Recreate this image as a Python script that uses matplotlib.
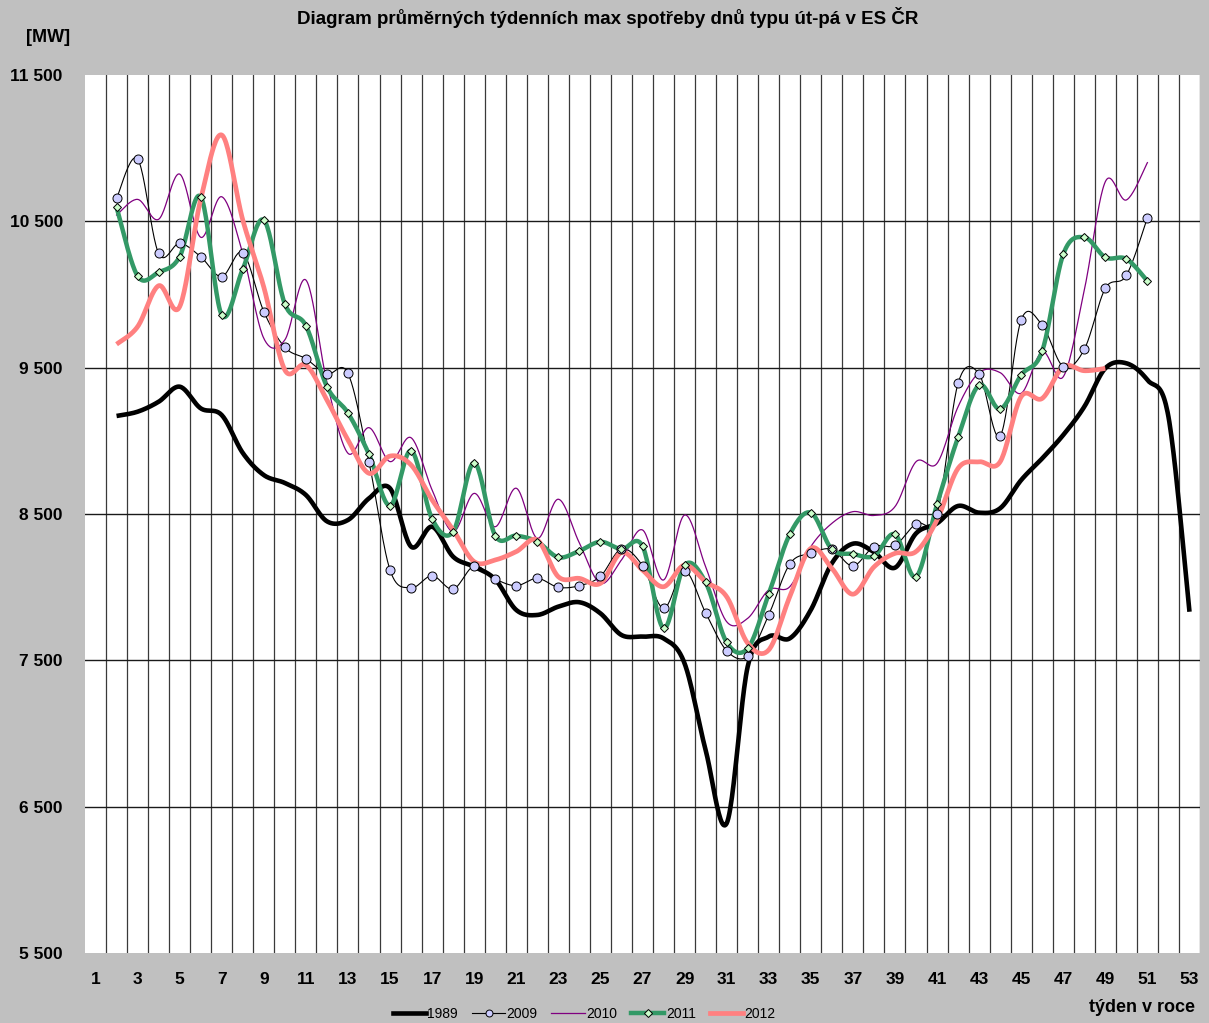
import numpy as np
import matplotlib.pyplot as plt
from matplotlib.lines import Line2D
from matplotlib.ticker import FixedLocator, NullLocator

plt.rcParams['font.family'] = ['Liberation Sans', 'DejaVu Sans']

# týdenní maxima [MW]
tydny_1989 = list(range(2, 54))
v1989 = [9170, 9199, 9267, 9370, 9222, 9176, 8917, 8766, 8712, 8630, 8450,
         8459, 8607, 8675, 8277, 8413, 8208, 8140, 8053, 7844, 7810, 7867,
         7897, 7821, 7673, 7662, 7650, 7479, 6887, 6386, 7457, 7662, 7650,
         7844, 8163, 8297, 8240, 8133, 8367, 8436, 8555, 8509, 8539, 8732,
         8880, 9040, 9233, 9496, 9530, 9416, 9165, 7832]

tydny_2009 = list(range(2, 52))
v2009 = [10657, 10926, 10281, 10350, 10258, 10122, 10286, 9883, 9639, 9561,
         9457, 9461, 8855, 8117, 7996, 8078, 7987, 8145, 8056, 8010, 8060,
         7999, 8010, 8074, 8261, 8147, 7855, 8112, 7825, 7566, 7529, 7810,
         8158, 8231, 8259, 8145, 8277, 8286, 8435, 8498, 9393, 9457, 9033,
         9826, 9791, 9507, 9625, 10042, 10131, 10525]

tydny_2010 = list(range(2, 52))
v2010 = [10543, 10650, 10514, 10823, 10391, 10668, 10281, 9700, 9690, 10099,
         9400, 8915, 9090, 8858, 9021, 8664, 8379, 8641, 8413, 8676, 8334,
         8601, 8302, 8026, 8186, 8391, 8049, 8493, 8140, 7764, 7787, 7981,
         8003, 8277, 8436, 8516, 8490, 8550, 8857, 8846, 9233, 9466, 9466,
         9325, 9609, 9438, 10030, 10771, 10646, 10901]

tydny_2011 = list(range(2, 52))
v2011 = [10596, 10126, 10152, 10258, 10668, 9860, 10174, 10509, 9935, 9787,
         9370, 9190, 8908, 8557, 8933, 8466, 8379, 8851, 8352, 8352, 8311,
         8204, 8248, 8310, 8260, 8281, 7719, 8151, 8033, 7623, 7582, 7953,
         8361, 8509, 8259, 8227, 8213, 8361, 8071, 8566, 9024, 9381, 9217,
         9450, 9614, 10275, 10391, 10254, 10243, 10092]

tydny_2012 = list(range(2, 50))
v2012 = [9660, 9780, 10060, 9917, 10650, 11090, 10509, 10050, 9484, 9518,
         9279, 9006, 8778, 8896, 8835, 8596, 8391, 8174, 8186, 8243, 8322,
         8071, 8060, 8026, 8237, 8117, 8003, 8151, 8037, 7935, 7617, 7571,
         7935, 8265, 8129, 7952, 8138, 8231, 8243, 8459, 8812, 8857, 8857,
         9302, 9290, 9507, 9479, 9495]

y_ticks = [5500, 6500, 7500, 8500, 9500, 10500, 11500]
x_labels = list(range(1, 54, 2))


def vyhlad(x, y, n=24):
    # vyhlazená čára jako v Excelu (Bézier s tečnami Catmull-Rom)
    x = np.asarray(x, float)
    y = np.asarray(y, float)
    bx, by = [], []
    for i in range(len(x) - 1):
        p0 = max(i - 1, 0)
        p3 = min(i + 2, len(x) - 1)
        c1x = x[i] + (x[i + 1] - x[p0]) / 6
        c1y = y[i] + (y[i + 1] - y[p0]) / 6
        c2x = x[i + 1] - (x[p3] - x[i]) / 6
        c2y = y[i + 1] - (y[p3] - y[i]) / 6
        t = np.linspace(0, 1, n, endpoint=(i == len(x) - 2))
        a = (1 - t) ** 3
        b = 3 * (1 - t) ** 2 * t
        c = 3 * (1 - t) * t ** 2
        d = t ** 3
        bx.extend(a * x[i] + b * c1x + c * c2x + d * x[i + 1])
        by.extend(a * y[i] + b * c1y + c * c2y + d * y[i + 1])
    return np.array(bx), np.array(by)


fig = plt.figure(figsize=(12.09, 10.23), dpi=100, facecolor='#c0c0c0')
ax = fig.add_axes([85 / 1209, 70 / 1023, 1115 / 1209, 878 / 1023])
ax.set_facecolor('white')
ax.set_xlim(0.5, 53.5)
ax.set_ylim(5500, 11500)

for s in ax.spines.values():
    s.set_visible(False)

for k in range(1, 54):
    ax.axvline(k + 0.5, color='#3a3a3a', lw=0.9, zorder=1)
for v in y_ticks[1:-1]:
    ax.axhline(v, color='#1a1a1a', lw=1.0, zorder=1)

ax.xaxis.set_major_locator(FixedLocator(x_labels))
ax.set_xticklabels([str(k) for k in x_labels])
ax.yaxis.set_major_locator(FixedLocator(y_ticks))
ax.set_yticklabels([f'{v:,}'.replace(',', ' ') for v in y_ticks])
ax.xaxis.set_minor_locator(NullLocator())
ax.tick_params(axis='both', length=0, labelsize=12.5)
ax.tick_params(axis='x', pad=14)
ax.tick_params(axis='y', pad=16)
for lab in ax.get_xticklabels() + ax.get_yticklabels():
    lab.set_fontweight('bold')

sx, sy = vyhlad(tydny_1989, v1989)
ax.plot(sx, sy, color='black', lw=3.3, zorder=3, solid_capstyle='butt')

sx, sy = vyhlad(tydny_2009, v2009)
ax.plot(sx, sy, color='black', lw=0.8, zorder=3)

sx, sy = vyhlad(tydny_2010, v2010)
ax.plot(sx, sy, color='#800080', lw=0.9, zorder=3)

sx, sy = vyhlad(tydny_2011, v2011)
ax.plot(sx, sy, color='#339966', lw=3.2, zorder=3, solid_capstyle='butt')

sx, sy = vyhlad(tydny_2012, v2012)
ax.plot(sx, sy, color='#ff8080', lw=3.4, zorder=4, solid_capstyle='butt')

ax.plot(tydny_2009, v2009, ls='none', marker='o', ms=6.5, mfc='#ccccff',
        mec='black', mew=0.7, zorder=5)
ax.plot(tydny_2011, v2011, ls='none', marker='D', ms=4.5, mfc='#ccffcc',
        mec='black', mew=0.7, zorder=5)

fig.text(608 / 1209, 1 - 17 / 1023,
         'Diagram průměrných týdenních max spotřeby dnů typu út-pá v ES ČR',
         ha='center', va='center', fontsize=13.5, fontweight='bold')
fig.text(48 / 1209, 1 - 38 / 1023, '[MW]', ha='center', va='center',
         fontsize=13, fontweight='bold')
fig.text(1195 / 1209, 1 - 1007 / 1023, 'týden v roce', ha='right',
         va='center', fontsize=13, fontweight='bold')

handles = [
    Line2D([], [], color='black', lw=3.3),
    Line2D([], [], color='black', lw=0.8, marker='o', ms=5, mfc='#ccccff',
           mec='black', mew=0.7),
    Line2D([], [], color='#800080', lw=0.9),
    Line2D([], [], color='#339966', lw=3.2, marker='D', ms=4, mfc='#ccffcc',
           mec='black', mew=0.7),
    Line2D([], [], color='#ff8080', lw=3.4),
]
fig.legend(handles, ['1989', '2009', '2010', '2011', '2012'],
           loc='center', bbox_to_anchor=(584 / 1209, 1 - 1014 / 1023),
           ncol=5, frameon=False, fontsize=10, handlelength=2.4,
           handletextpad=0.1, columnspacing=1.0, borderpad=0)

fig.savefig('out.png', dpi=100, facecolor=fig.get_facecolor())
